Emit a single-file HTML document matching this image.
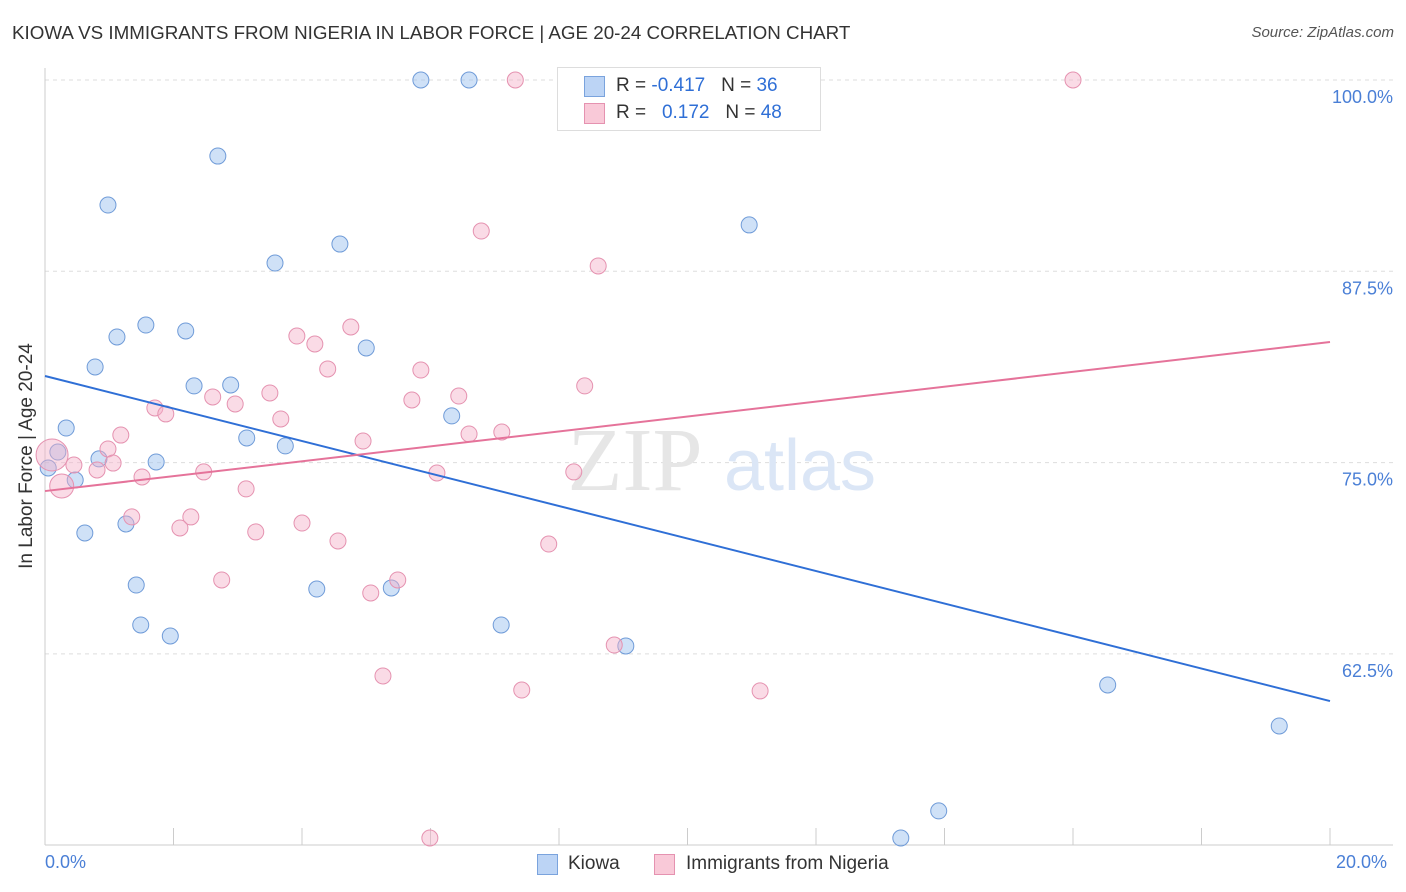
<!DOCTYPE html>
<html><head><meta charset="utf-8"><style>
body{margin:0;background:#fff;font-family:"Liberation Sans",sans-serif;}
#wrap{position:relative;width:1406px;height:892px;}
.t{position:absolute;white-space:nowrap;}
</style></head><body>
<div id="wrap">
<div class="t" style="left:12px;top:22px;font-size:18.8px;color:#333;">KIOWA VS IMMIGRANTS FROM NIGERIA IN LABOR FORCE | AGE 20-24 CORRELATION CHART</div>
<div class="t" style="right:12px;top:24px;font-size:15px;color:#555;font-style:italic;">Source: ZipAtlas.com</div>
<div class="t" style="left:-88px;top:445px;font-size:19px;color:#333;transform:rotate(-90deg);width:230px;text-align:center;">In Labor Force | Age 20-24</div>
<svg id="svg" width="1406" height="892" style="position:absolute;left:0;top:0;"></svg>
</div>
<script>
const yTicks=[100,87.5,75,62.5];
const yTickLabels=["100.0%","87.5%","75.0%","62.5%"];
const xTickVals=[2,4,6,8,10,12,14,16,18,20];
const kiowaX=[5.85,6.60,2.69,0.98,10.96,4.59,3.58,1.57,1.12,2.19,5.00,0.78,2.32,2.89,6.33,0.33,3.14,3.74,0.20,0.84,1.73,0.05,0.47,1.26,0.62,1.42,4.23,5.39,1.49,1.95,7.10,9.04,16.54,19.21,13.91,13.32];
const kiowaY=[100,100,95.03,91.83,90.53,89.28,88.04,83.99,83.21,83.60,82.49,81.25,80.01,80.07,78.05,77.26,76.61,76.09,75.69,75.24,75.04,74.65,73.86,70.99,70.40,67.00,66.74,66.81,64.39,63.67,64.39,63.02,60.47,57.79,52.24,50.47];
const nigX=[7.32,16.00,6.79,8.61,4.76,3.92,4.20,4.40,5.85,8.40,2.61,3.50,6.44,5.71,2.96,1.71,1.88,3.67,1.18,6.60,7.11,4.95,0.98,0.11,0.45,0.81,1.06,2.47,1.51,6.10,8.23,0.26,3.13,1.35,2.27,2.10,4.00,3.28,4.56,7.84,2.75,5.49,5.07,8.86,5.26,7.42,11.13,5.99];
const nigY=[100,100,90.13,87.85,83.86,83.27,82.75,81.12,81.05,80.01,79.29,79.55,79.35,79.09,78.83,78.57,78.18,77.85,76.80,76.87,77.00,76.41,75.89,75.50,74.84,74.52,74.97,74.39,74.06,74.32,74.39,73.47,73.28,71.45,71.45,70.73,71.05,70.47,69.88,69.68,67.33,67.33,66.48,63.08,61.06,60.14,60.08,50.47];
const nigSize=[8,8,8,8,8,8,8,8,8,8,8,8,8,8,8,8,8,8,8,8,8,8,8,16,8,8,8,8,8,8,8,12,8,8,8,8,8,8,8,8,8,8,8,8,8,8,8,8];
const kiowaTrend=[80.66,59.42];
const nigTrend=[73.14,82.88];
const X=v=>45+v/20*1285;
const Y=v=>80+(100-v)/12.5*191.3;
const svg=document.getElementById('svg');
const NS='http://www.w3.org/2000/svg';
function mk(t,a){const e=document.createElementNS(NS,t);for(const k in a)e.setAttribute(k,a[k]);svg.appendChild(e);return e;}
yTicks.forEach((v,i)=>{
 const g=mk('line',{x1:45,x2:1393,y1:Y(v),y2:Y(v),stroke:'#ddd','stroke-dasharray':'4,4'});
 
 
 const t=mk('text',{x:1393,y:Y(v)+23,'text-anchor':'end','font-size':18,fill:'#4a7fd6','font-family':'Liberation Sans, sans-serif'});
 t.textContent=yTickLabels[i];
 
 
});
const ax=mk('line',{x1:45,x2:45,y1:68,y2:845,stroke:'#ccc'});


const bx=mk('line',{x1:45,x2:1393,y1:845,y2:845,stroke:'#ccc'});


xTickVals.forEach(v=>{
 const l=mk('line',{x1:X(v),x2:X(v),y1:828,y2:845,stroke:'#ccc'});
 
 
});
const wm=mk('text',{x:720,y:490,'text-anchor':'middle','font-size':90,fill:'#e6e6e6','font-family':'Liberation Serif, serif'});
wm.textContent='ZIP';


wm.setAttribute('dx','-85');
const wm2=mk('text',{x:800,y:490,'text-anchor':'middle','font-size':72,fill:'#dbe6f6','font-family':'Liberation Sans, sans-serif'});
wm2.textContent='atlas';


kiowaX.forEach((v,i)=>{
 const c=mk('circle',{cx:X(v),cy:Y(kiowaY[i]),r:8,fill:'rgba(160,195,240,0.5)',stroke:'#6f9bd8','stroke-width':1});
 
 
});
nigX.forEach((v,i)=>{
 const c=mk('circle',{cx:X(v),cy:Y(nigY[i]),r:nigSize[i],fill:'rgba(245,175,200,0.45)',stroke:'#e592b0','stroke-width':1});
 
 
});
const bl=mk('line',{x1:X(0),y1:Y(kiowaTrend[0]),x2:X(20),y2:Y(kiowaTrend[1]),stroke:'#2f6fd6','stroke-width':2});


const pl=mk('line',{x1:X(0),y1:Y(nigTrend[0]),x2:X(20),y2:Y(nigTrend[1]),stroke:'#e5739a','stroke-width':2});


</script>
<div class="t" style="left:45px;top:852px;font-size:18px;color:#4a7fd6;">0.0%</div>
<div class="t" style="left:1336px;top:852px;font-size:18px;color:#4a7fd6;">20.0%</div>
<div style="position:absolute;left:557px;top:67px;width:262px;height:62px;border:1px solid #ddd;background:#fff;font-size:19px;color:#333;">
 <div style="position:absolute;left:26px;top:8px;width:19px;height:19px;background:#bcd4f5;border:1px solid #7aa3dd;"></div>
 <div class="t" style="left:58px;top:7px;">R = <span style="color:#2f6fd6">-0.417</span> &nbsp;&nbsp;N = <span style="color:#2f6fd6">36</span></div>
 <div style="position:absolute;left:26px;top:35px;width:19px;height:19px;background:#f9c9d8;border:1px solid #e592b0;"></div>
 <div class="t" style="left:58px;top:34px;">R = &nbsp;&nbsp;<span style="color:#2f6fd6">0.172</span> &nbsp;&nbsp;N = <span style="color:#2f6fd6">48</span></div>
</div>
<div style="position:absolute;left:537px;top:854px;width:19px;height:19px;background:#bcd4f5;border:1px solid #7aa3dd;"></div>
<div class="t" style="left:568px;top:853px;font-size:19px;color:#333;">Kiowa</div>
<div style="position:absolute;left:654px;top:854px;width:19px;height:19px;background:#f9c9d8;border:1px solid #e592b0;"></div>
<div class="t" style="left:686px;top:853px;font-size:19px;color:#333;">Immigrants from Nigeria</div>
</body></html>
